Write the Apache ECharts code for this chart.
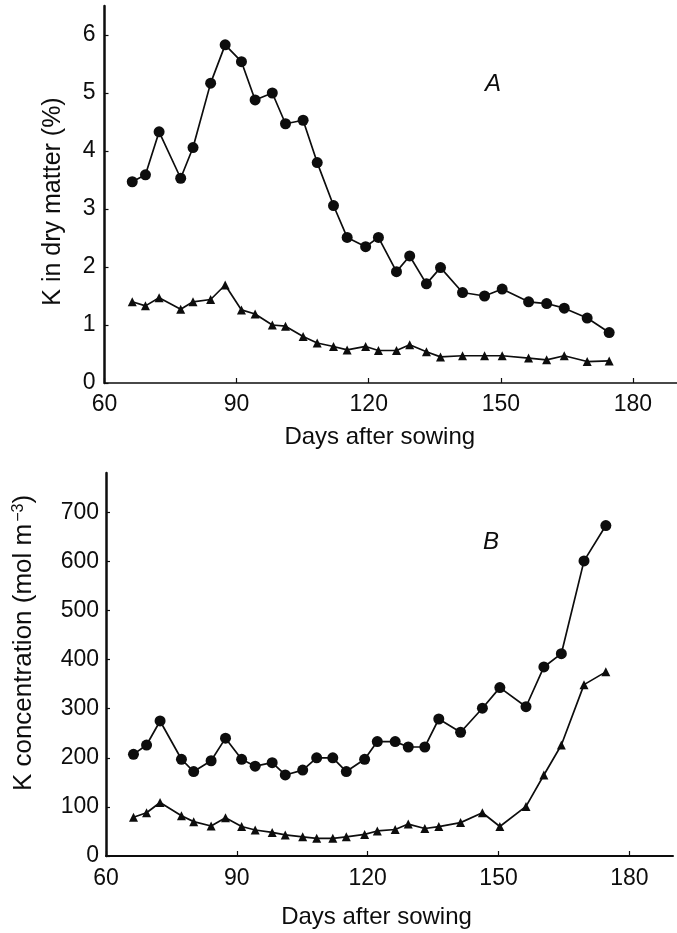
<!DOCTYPE html>
<html>
<head>
<meta charset="utf-8">
<title>Potassium in plant tissue</title>
<script src="https://cdn.jsdelivr.net/npm/echarts@6/dist/echarts.min.js"></script>
<style>
  html, body { margin: 0; padding: 0; background: #fff; }
  #chart { width: 677px; height: 933px; }
</style>
</head>
<body>
<div id="chart"></div>
<script>
// Sampling dates (days after sowing), shared by both panels
const days = [66.3, 69.3, 72.4, 77.3, 80.1, 84.1, 87.4, 91.1, 94.2, 98.1, 101.1, 105.1, 108.3, 112.0, 115.1,
              119.3, 122.2, 126.3, 129.3, 133.1, 136.3, 141.3, 146.3, 150.3, 156.3, 160.4, 164.4, 169.6, 174.6];

// Panel A: K in dry matter (%)
const dryMatterCircle = [3.47, 3.59, 4.33, 3.53, 4.06, 5.17, 5.83, 5.54, 4.88, 5.00, 4.47, 4.53, 3.80, 3.06, 2.51,
                         2.35, 2.51, 1.92, 2.19, 1.71, 1.99, 1.56, 1.50, 1.62, 1.40, 1.37, 1.29, 1.12, 0.87];
const dryMatterTriangle = [1.40, 1.33, 1.47, 1.27, 1.40, 1.44, 1.69, 1.26, 1.19, 1.00, 0.98, 0.80, 0.69, 0.63, 0.57,
                           0.63, 0.56, 0.56, 0.66, 0.54, 0.45, 0.47, 0.47, 0.47, 0.43, 0.40, 0.47, 0.37, 0.38];

// Panel B: K concentration (mol m-3)
const concCircle = [207, 226, 275, 197, 172, 194, 240, 197, 183, 190, 165, 175, 200, 200, 172,
                    197, 233, 233, 222, 222, 279, 252, 301, 343, 304, 385, 412, 601, 673];
const concTriangle = [79, 88, 109, 82, 70, 61, 78, 60, 53, 48, 43, 39, 36, 36, 39,
                      44, 51, 54, 65, 56, 60, 68, 88, 60, 101, 165, 226, 349, 375];

// Tick values
const dayTicks = [60, 90, 120, 150, 180];
const dryMatterTicks = [0, 1, 2, 3, 4, 5, 6];
const concTicks = [0, 100, 200, 300, 400, 500, 600, 700];

const FONT = "'Liberation Sans', Arial, Helvetica, sans-serif";
const INK = '#0d0d0d';

const pairs = (xs, ys) => xs.map((x, i) => [x, ys[i]]);

function xAxisFor(gridIndex, lineWidth, labelMargin, nameGap, shift) {
  return {
    type: 'value', gridIndex, min: 60, max: 190,
    axisLine: { show: true, onZero: false, lineStyle: { color: INK, width: lineWidth } },
    axisTick: { show: true, inside: true, length: 5, customValues: dayTicks, lineStyle: { color: INK, width: 1.2 } },
    axisLabel: { customValues: dayTicks, margin: labelMargin, color: INK, fontSize: 23, fontFamily: FONT },
    splitLine: { show: false },
    name: 'Days after sowing', nameLocation: 'middle', nameGap,
    nameTextStyle: { color: INK, fontSize: 24, fontFamily: FONT, padding: [0, shift, 0, 0] }
  };
}

function lineSeries(xIdx, yIdx, data, symbol, size) {
  return {
    type: 'line', xAxisIndex: xIdx, yAxisIndex: yIdx, data,
    symbol, symbolSize: size, showAllSymbol: true,
    lineStyle: { color: INK, width: 1.7 },
    itemStyle: { color: INK, borderWidth: 0 },
    animation: false, z: symbol === 'circle' ? 3 : 2
  };
}

const chart = echarts.init(document.getElementById('chart'), null, { renderer: 'canvas' });

chart.setOption({
  backgroundColor: '#fff',
  animation: false,
  title: [
    { text: 'A', left: 480, top: 67, textStyle: { fontSize: 24, fontStyle: 'italic', fontWeight: 'normal', color: INK, fontFamily: FONT } },
    { text: 'B', left: 478, top: 525, textStyle: { fontSize: 24, fontStyle: 'italic', fontWeight: 'normal', color: INK, fontFamily: FONT } }
  ],
  grid: [
    { left: 104.5, top: 6, width: 575, height: 377, containLabel: false },
    { left: 106, top: 473, width: 567, height: 383, containLabel: false }
  ],
  xAxis: [
    xAxisFor(0, 1.5, 10, 42, 22),
    xAxisFor(1, 2, 11, 49, 26)
  ],
  yAxis: [
    {
      type: 'value', gridIndex: 0, min: 0, max: 6.5,
      axisLine: { show: true, onZero: false, lineStyle: { color: INK, width: 2.5 } },
      axisTick: { show: true, inside: true, length: 4, customValues: dryMatterTicks, lineStyle: { color: INK, width: 1.2 } },
      axisLabel: { customValues: dryMatterTicks, margin: 9, color: INK, fontSize: 23, fontFamily: FONT },
      splitLine: { show: false },
      name: 'K in dry matter (%)', nameLocation: 'middle', nameRotate: 90, nameGap: 39,
      nameTextStyle: { color: INK, fontSize: 25, fontFamily: FONT, padding: [0, 14, 0, 0] }
    },
    {
      type: 'value', gridIndex: 1, min: 0, max: 780,
      axisLine: { show: true, onZero: false, lineStyle: { color: INK, width: 2.5 } },
      axisTick: { show: true, inside: true, length: 4, customValues: concTicks, lineStyle: { color: INK, width: 1.2 } },
      axisLabel: { customValues: concTicks, margin: 7, color: INK, fontSize: 23, fontFamily: FONT },
      splitLine: { show: false },
      name: '{t|K concentration (mol m}{s|\u22123}{t|)}', nameLocation: 'middle', nameRotate: 90, nameGap: 69,
      nameTextStyle: {
        color: INK, fontSize: 26, fontFamily: FONT, padding: [0, 0, 0, 43],
        rich: {
          t: { fontSize: 26, fontFamily: FONT, color: INK },
          s: { fontSize: 16, fontFamily: FONT, color: INK, verticalAlign: 'top', padding: [0, 0, 10, 2] }
        }
      }
    }
  ],
  series: [
    lineSeries(0, 0, pairs(days, dryMatterCircle), 'circle', 11),
    lineSeries(0, 0, pairs(days, dryMatterTriangle), 'triangle', 9),
    lineSeries(1, 1, pairs(days, concCircle), 'circle', 11),
    lineSeries(1, 1, pairs(days, concTriangle), 'triangle', 9)
  ]
});
</script>
</body>
</html>
